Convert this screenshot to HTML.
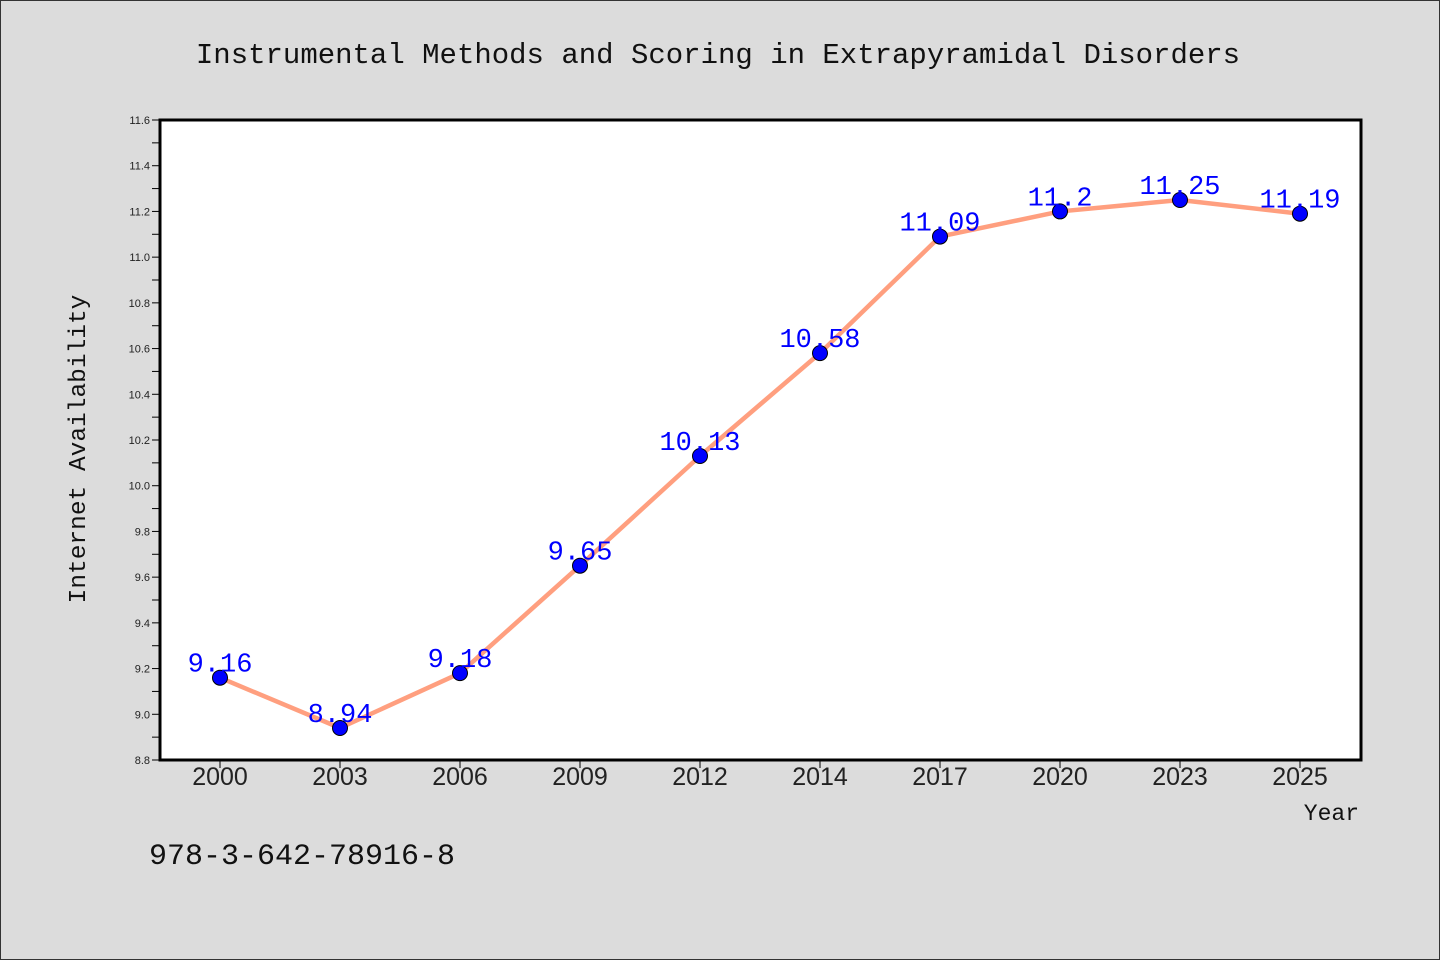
<!DOCTYPE html>
<html><head><meta charset="utf-8"><style>
body{margin:0;background:#dcdcdc;}
svg{display:block}
.mono{font-family:"Liberation Mono",monospace}
.sans{font-family:"Liberation Sans",sans-serif}
</style></head><body>
<svg id="chart" width="1440" height="960">
<rect x="0.5" y="0.5" width="1439" height="959" fill="#dcdcdc" stroke="#333"/>
<text class="mono" x="718" y="63" text-anchor="middle" font-size="29" fill="#111">Instrumental Methods and Scoring in Extrapyramidal Disorders</text>
<rect x="160" y="120" width="1201" height="640" fill="#fff"/>
<g id="yaxis"></g>
<g id="xaxis"></g>
<g id="series"></g>
<rect x="160" y="120" width="1201" height="640" fill="none" stroke="#000" stroke-width="3"/>
<text class="mono" x="85" y="449" transform="rotate(-90 85 449)" text-anchor="middle" font-size="24.5" fill="#111">Internet Availability</text>
<text class="mono" x="1359" y="820" text-anchor="end" font-size="23" fill="#111">Year</text>
<text class="mono" x="149" y="864" font-size="30" fill="#111">978-3-642-78916-8</text>
</svg>
<script>
const categories=["2000","2003","2006","2009","2012","2014","2017","2020","2023","2025"];
const values=[9.16,8.94,9.18,9.65,10.13,10.58,11.09,11.2,11.25,11.19];
const yTicks=[8.8,9.0,9.2,9.4,9.6,9.8,10.0,10.2,10.4,10.6,10.8,11.0,11.2,11.4,11.6];
const yMin=8.8,yMax=11.6;
const NS="http://www.w3.org/2000/svg";
const L=160,R=1361,T=120,B=760;
const y=v=>B-(v-yMin)/(yMax-yMin)*(B-T);
const x=i=>220+i*120;
function mk(tag,attrs,parent,txt){const e=document.createElementNS(NS,tag);for(const k in attrs)e.setAttribute(k,attrs[k]);if(txt!==undefined)e.textContent=txt;parent.appendChild(e);return e;}
const ya=document.getElementById('yaxis'),xa=document.getElementById('xaxis'),sg=document.getElementById('series');
yTicks.forEach((t,i)=>{
  const ln=mk('line',{x1:L-8,x2:L,y1:y(t),y2:y(t),stroke:'#000','stroke-width':1},ya);
  
  
  const tx=mk('text',{class:'sans',x:L-10,y:y(t)+4,'text-anchor':'end','font-size':11,fill:'#222'},ya,t.toFixed(1));
  
  
  if(i<yTicks.length-1){const m=(t+yTicks[i+1])/2;
    const mn=mk('line',{x1:L-8,x2:L,y1:y(m),y2:y(m),stroke:'#000','stroke-width':1},ya);
    
    }
});
categories.forEach((c,i)=>{
  const ln=mk('line',{x1:x(i),x2:x(i),y1:B,y2:B+8,stroke:'#000','stroke-width':1},xa);
  
  
  const tx=mk('text',{class:'sans',x:x(i),y:B+25,'text-anchor':'middle','font-size':25,fill:'#222'},xa,c);
  
  
});
const pl=mk('polyline',{points:values.map((v,i)=>x(i)+','+y(v)).join(' '),fill:'none',stroke:'#ff9f7f','stroke-width':4.5,'stroke-linejoin':'round'},sg);


values.forEach((v,i)=>{
  const c=mk('circle',{cx:x(i),cy:y(v),r:7.5,fill:'#0000ff',stroke:'#000','stroke-width':1},sg);
  
  
  const t=mk('text',{class:'mono',x:x(i),y:y(v)-6,'text-anchor':'middle','font-size':27,fill:'#0000ff'},sg,String(v));
  
  
});
</script>
</body></html>
